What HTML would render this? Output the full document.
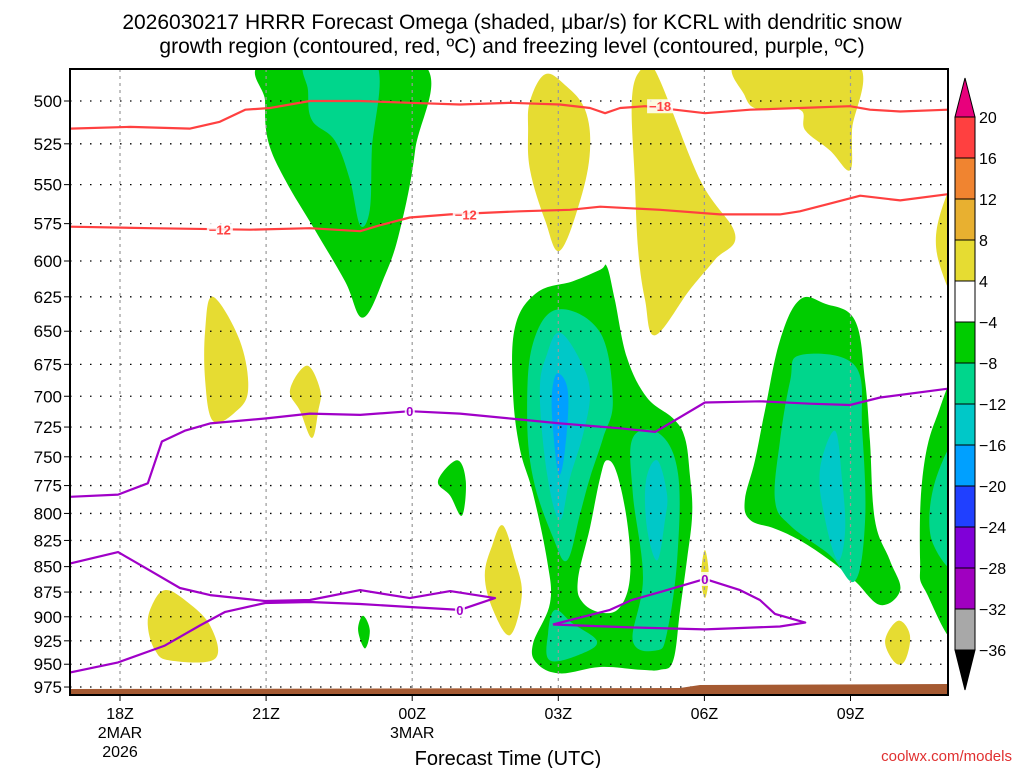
<!DOCTYPE html>
<html><head><meta charset="utf-8"><style>
html,body{margin:0;padding:0;background:#fff;}
svg{display:block;font-family:"Liberation Sans","DejaVu Sans",sans-serif;}
</style></head><body>
<svg id="chart" width="1024" height="768" viewBox="0 0 1024 768">
<defs><clipPath id="plotclip"><rect x="70" y="69" width="878" height="626"/></clipPath></defs>
<text x="512" y="29" text-anchor="middle" font-size="21" fill="#000">2026030217 HRRR Forecast Omega (shaded, μbar/s) for KCRL with dendritic snow</text>
<text x="512" y="53" text-anchor="middle" font-size="21" fill="#000">growth region (contoured, red, ºC) and freezing level (contoured, purple, ºC)</text>
<g id="plot" clip-path="url(#plotclip)"></g>
<g id="overlay"></g>
<g id="cbar"></g>
<text x="508" y="765" text-anchor="middle" font-size="20" fill="#000">Forecast Time (UTC)</text>
<text x="1012" y="761" text-anchor="end" font-size="15" fill="#e03030">coolwx.com/models</text>
</svg>
<script>
// time in hours after 18Z 2 Mar 2026, pressure in hPa
const pressureTicks=[500,525,550,575,600,625,650,675,700,725,750,775,800,825,850,875,900,925,950,975];
const timeTicks=[0,3,6,9,12,15];
const timeTickLabels=[["18Z","2MAR","2026"],["21Z"],["00Z","3MAR"],["03Z"],["06Z"],["09Z"]];
const cbarLevels=["20","16","12","8","4","-4","-8","-12","-16","-20","-24","-28","-32","-36"];
const cbarColors=["#ff4040","#f08430","#e8b030","#e6dc32","#ffffff","#00cc00","#00d68c","#00c8c8","#00a0ff","#2040ff","#8000d8","#a000c0","#a8a8a8"];
const yellowRegions=[
[[8.42,500],[8.73,485],[9.14,491],[9.55,505],[9.65,529],[9.45,560],[9.03,593],[8.73,573],[8.42,541],[8.38,517]],
[[10.51,500],[10.68,483],[10.99,483],[11.91,547],[12.63,582],[12.22,599],[11.70,620],[10.99,653],[10.78,627],[10.64,593],[10.57,547]],
[[12.73,478],[15.09,478],[15.03,517],[14.99,541],[14.58,529],[14.07,517],[13.96,505],[13.14,505],[12.83,497]],
[[17.3,545],[16.84,569],[16.80,599],[17.3,630]],
[[1.91,625],[2.46,657],[2.63,695],[2.36,713],[1.91,720],[1.75,688],[1.75,649]],
[[3.84,676],[4.11,695],[4.07,712],[3.94,734],[3.70,712],[3.49,695]],
[[7.86,811],[8.11,844],[8.25,878],[8.01,919],[7.66,893],[7.49,859],[7.64,830]],
[[0.92,873],[1.33,883],[1.85,909],[1.95,944],[1.03,946],[0.72,935],[0.57,909],[0.66,888]],
[[12.01,834],[12.09,859],[12.01,881],[11.93,859]],
[[15.98,904],[16.22,919],[16.12,946],[15.91,948],[15.71,925]]];
const greenRegions=[
[[3.04,478],[6.16,478],[6.06,529],[5.75,579],[5.44,610],[4.99,640],[4.62,614],[4.00,579],[3.39,547],[3.04,523],[2.98,500]],
[[10.0,604],[10.16,627],[10.41,670],[10.82,701],[11.36,718],[11.60,734],[11.70,765],[11.75,800],[11.64,844],[11.50,893],[11.36,946],[11.09,956],[10.68,956],[9.86,953],[9.03,960],[8.56,949],[8.48,928],[8.83,886],[8.77,844],[8.48,782],[8.21,743],[8.07,697],[8.11,647],[8.56,622],[9.30,614],[9.86,606]],
[[13.96,627],[14.48,630],[15.09,642],[15.30,688],[15.40,737],[15.50,806],[15.81,844],[16.02,873],[15.61,888],[15.09,864],[14.58,844],[13.96,825],[13.45,814],[12.94,806],[12.83,788],[13.04,753],[13.24,712],[13.55,657]],
[[17.3,690],[16.74,720],[16.47,771],[16.43,844],[16.53,873],[17.3,915]],
[[6.92,753],[7.10,771],[7.02,802],[6.78,784],[6.53,771]],
[[4.99,899],[5.13,914],[5.03,933],[4.89,914]]];
const holeRegions=[
[[10.0,753],[10.21,765],[10.43,813],[10.47,861],[10.27,890],[9.92,896],[9.51,886],[9.40,864],[9.65,813],[9.86,768]]];
const tealRegions=[
[[3.86,478],[5.24,478],[5.17,529],[5.13,566],[4.93,576],[4.72,547],[4.41,523],[3.94,511],[3.86,494]],
[[8.99,634],[9.86,651],[10.12,703],[9.92,734],[9.65,768],[9.45,800],[9.18,844],[8.89,822],[8.48,768],[8.36,712],[8.48,659]],
[[8.93,893],[9.30,907],[9.79,925],[9.51,938],[8.83,946],[8.79,917]],
[[10.53,734],[11.09,731],[11.46,765],[11.44,844],[11.23,917],[11.03,935],[10.53,925],[10.74,861],[10.53,782]],
[[13.96,668],[15.09,676],[15.24,728],[15.30,806],[15.09,864],[14.58,839],[13.76,811],[13.45,788],[13.55,737],[13.76,688]],
[[17.3,735],[16.74,771],[16.67,825],[17.3,850]]];
const cyanRegions=[
[[9.03,651],[9.45,672],[9.65,697],[9.51,731],[9.24,768],[9.03,806],[8.77,765],[8.62,697],[8.77,667]],
[[11.03,753],[11.23,782],[11.19,806],[11.03,844],[10.82,813],[10.80,771]],
[[14.68,728],[14.83,771],[14.89,816],[14.74,844],[14.48,806],[14.37,762]]];
const blueRegions=[
[[8.99,682],[9.20,697],[9.14,743],[9.01,765],[8.89,726],[8.87,697]]];
const redMinus18=[[-1.03,516],[0.21,515],[1.44,516],[2.05,512],[2.57,505],[3.08,504],[3.90,500],[4.93,500],[5.95,501],[6.98,502],[8.01,501],[9.03,502],[9.65,504],[9.96,507],[10.27,504],[10.78,503],[12.01,507],[12.94,505],[13.96,504],[14.99,503],[15.40,505],[16.02,506],[17,505]];
const redMinus12=[[-1.03,577],[0.62,578],[2.67,579],[3.90,578],[4.93,580],[5.34,576],[5.95,571],[6.78,569],[8.21,567],[9.24,566],[9.86,564],[11.09,566],[12.32,569],[13.55,569],[13.96,567],[14.58,562],[15.20,557],[16.02,560],[17,556]];
const freezeUpper=[[-1.03,785],[-0.04,783],[0.57,773],[0.86,737],[1.33,728],[1.85,722],[2.98,718],[3.90,714],[4.93,715],[5.95,712],[6.98,714],[8.01,718],[9.03,722],[10.27,726],[10.99,729],[12.01,705],[13.14,704],[14.17,706],[14.99,707],[15.61,701],[17,694]];
const freezeLower=[[-1.03,847],[-0.04,836],[0.62,854],[1.23,871],[1.85,878],[2.98,884],[3.90,883],[4.93,873],[5.95,881],[6.78,874],[7.70,881],[6.98,893],[5.95,890],[4.93,887],[3.90,885],[2.98,886],[2.16,895],[1.64,909],[0.92,930],[-0.04,948],[-1.03,959]];
const freezeRight=[[8.89,908],[10.06,893],[10.51,883],[11.09,875],[12.01,862],[12.73,873],[13.14,883],[13.45,897],[14.07,906],[13.55,910],[12.01,913],[10.47,911],[8.89,908]];
const contourLabels=[[2.05,579,"-12","#ff4040"],[7.10,569,"-12","#ff4040"],[11.09,503,"-18","#ff4040"],[5.95,712,"0","#a000c8"],[6.98,893,"0","#a000c8"],[12.01,862,"0","#a000c8"]];

const NS="http://www.w3.org/2000/svg";
const X=t=>120+48.7*t;
const Y=p=>101+877.5*Math.log(p/500);
function mk(tag,attrs,parent){const e=document.createElementNS(NS,tag);for(const k in attrs)e.setAttribute(k,attrs[k]);parent.appendChild(e);return e;}
const plot=document.getElementById('plot');
const ov=document.getElementById('overlay');
const cb=document.getElementById('cbar');
const pts=a=>a.map(d=>X(d[0]).toFixed(1)+','+Y(d[1]).toFixed(1)).join(' ');
function smoothClosed(a){const P=a.map(d=>[X(d[0]),Y(d[1])]);const n=P.length;let s='M'+P[0][0].toFixed(1)+','+P[0][1].toFixed(1);
for(let i=0;i<n;i++){const p0=P[(i-1+n)%n],p1=P[i],p2=P[(i+1)%n],p3=P[(i+2)%n];const k=0.18;
const c1=[p1[0]+(p2[0]-p0[0])*k,p1[1]+(p2[1]-p0[1])*k],c2=[p2[0]-(p3[0]-p1[0])*k,p2[1]-(p3[1]-p1[1])*k];
s+=' C'+c1[0].toFixed(1)+','+c1[1].toFixed(1)+' '+c2[0].toFixed(1)+','+c2[1].toFixed(1)+' '+p2[0].toFixed(1)+','+p2[1].toFixed(1);}
return s+'Z';}
function drawRegions(list,color,name){list.forEach((r,i)=>{const e=mk('path',{d:smoothClosed(r),fill:color},plot);

});}
drawRegions(yellowRegions,'#e6dc32','omega-positive-region');
drawRegions(greenRegions,'#00cc00','omega-minus4-region');
drawRegions(holeRegions,'#ffffff','omega-gap-region');
drawRegions(tealRegions,'#00d68c','omega-minus8-region');
drawRegions(cyanRegions,'#00c8c8','omega-minus12-region');
drawRegions(blueRegions,'#00a0ff','omega-minus16-region');
// grid
pressureTicks.forEach(p=>{const g=mk('line',{x1:70,x2:948,y1:Y(p),y2:Y(p),stroke:'#000','stroke-width':1.3,'stroke-dasharray':'1.5 8.5'},plot);

});
timeTicks.forEach(t=>{const g=mk('line',{x1:X(t),x2:X(t),y1:69,y2:695,stroke:'#999','stroke-width':1.2,'stroke-dasharray':'3 4'},plot);

});
// ground
const gr=mk('polygon',{points:'70,689 680,688 700,685 948,684 948,696 70,696',fill:'#a55a32'},plot);


function drawLine(d,color,name){const e=mk('polyline',{points:pts(d),fill:'none',stroke:color,'stroke-width':2.2,'stroke-linejoin':'round'},plot);

}
drawLine(redMinus18,'#ff4040','dgz-minus18-contour');
drawLine(redMinus12,'#ff4040','dgz-minus12-contour');
drawLine(freezeUpper,'#a000c8','freezing-level-upper');
drawLine(freezeLower,'#a000c8','freezing-level-lower');
drawLine(freezeRight,'#a000c8','freezing-level-loop');
contourLabels.forEach(c=>{const x=X(c[0]),y=Y(c[1]);const w=c[2].length*8+2;
const bg=mk('rect',{x:x-w/2,y:y-7,width:w,height:14,fill:'#fff',opacity:0.85},plot);


const tx=mk('text',{x:x,y:y+5,'text-anchor':'middle','font-size':13,'font-weight':'bold',fill:c[3]},plot);tx.textContent=c[2].replace('-','−');

});
// frame
const fr=mk('rect',{x:70,y:69,width:878,height:626,fill:'none',stroke:'#000','stroke-width':2},ov);


pressureTicks.forEach(p=>{const y=Y(p);
mk('line',{x1:64,x2:70,y1:y,y2:y,stroke:'#000','stroke-width':1},ov);
const t=mk('text',{x:62,y:y+6,'text-anchor':'end','font-size':17,fill:'#000'},ov);t.textContent=p;

});
timeTicks.forEach((t,i)=>{const x=X(t);
mk('line',{x1:x,x2:x,y1:695,y2:701,stroke:'#000','stroke-width':1},ov);
timeTickLabels[i].forEach((s,j)=>{const e=mk('text',{x:x,y:719+j*19,'text-anchor':'middle','font-size':16,fill:'#000'},ov);e.textContent=s;

});});
// colorbar
const cbTop=117,boxH=41,cx=955,cw=20;
cbarColors.forEach((c,i)=>{const r=mk('rect',{x:cx,y:cbTop+i*boxH,width:cw,height:boxH,fill:c,stroke:'#000','stroke-width':1},cb);

});
const bot=cbTop+cbarColors.length*boxH;
const t1=mk('polygon',{points:`${cx},${cbTop} ${cx+cw},${cbTop} ${cx+cw/2},78`,fill:'#e8007c',stroke:'#000','stroke-width':1},cb);


const t2=mk('polygon',{points:`${cx},${bot} ${cx+cw},${bot} ${cx+cw/2},690`,fill:'#000',stroke:'#000','stroke-width':1},cb);


cbarLevels.forEach((l,i)=>{const e=mk('text',{x:979,y:cbTop+i*boxH+6,'font-size':16,fill:'#000'},cb);e.textContent=l.replace('-','−');

});
</script>
</body></html>
